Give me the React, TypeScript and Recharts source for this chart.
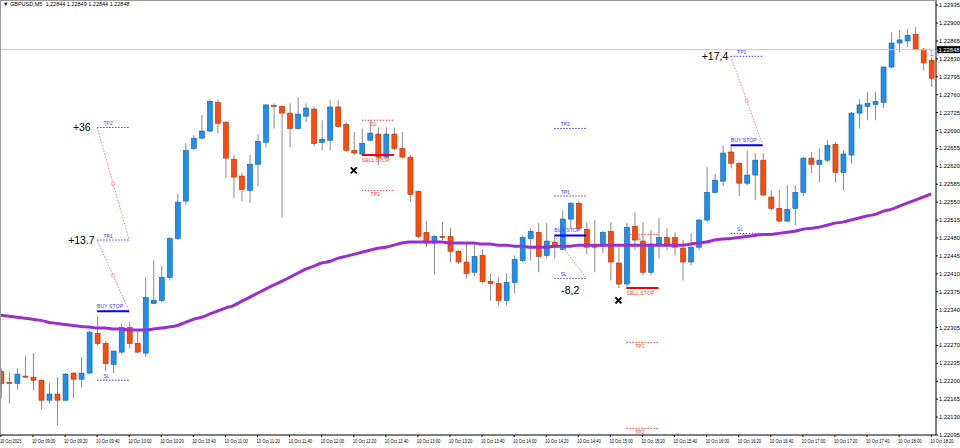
import React from "react";
import { ComposedChart, Bar, Line, XAxis, YAxis, ReferenceLine, ReferenceDot } from "recharts";

const headerText = "GBPUSD,M5  1.22844 1.22849 1.22844 1.22848";
const bidPrice = 1.22848;

// M5 candles, 08:40 .. 18:20
const opens = [
  1.22219, 1.22198, 1.22196, 1.2221, 1.22208, 1.22202, 1.22163, 1.22175, 1.22163, 1.22216,
  1.22204, 1.22216, 1.22294, 1.22274, 1.22233, 1.22257, 1.22305, 1.22274, 1.22255, 1.22352,
  1.22358, 1.22403, 1.22479, 1.22552, 1.22655, 1.22675, 1.22689, 1.22745, 1.22706, 1.22634,
  1.22601, 1.22573, 1.22624, 1.22667, 1.22739, 1.22737, 1.22724, 1.22694, 1.22718, 1.22732,
  1.22667, 1.22671, 1.22736, 1.22702, 1.22651, 1.22644, 1.22671, 1.22683, 1.22638, 1.22683,
  1.22655, 1.22638, 1.22571, 1.22491, 1.2247, 1.22483, 1.22483, 1.22454, 1.22433, 1.22413,
  1.22446, 1.22395, 1.22391, 1.22358, 1.22393, 1.22436, 1.22479, 1.22491, 1.22446, 1.22472,
  1.22458, 1.22517, 1.22548, 1.22497, 1.22464, 1.22464, 1.22493, 1.22431, 1.2239, 1.22503,
  1.22474, 1.22413, 1.22468, 1.22481, 1.22481, 1.2246, 1.22433, 1.22462, 1.22515, 1.22569,
  1.22591, 1.22648, 1.22626, 1.22587, 1.22603, 1.22632, 1.2256, 1.22538, 1.22513, 1.22538,
  1.22569, 1.22636, 1.22624, 1.22632, 1.22663, 1.22608, 1.22642, 1.22724, 1.22737, 1.22741,
  1.22745, 1.22814, 1.22861, 1.22865, 1.22878, 1.22849, 1.22827,
];
const highs = [
  1.22225, 1.22217, 1.22225, 1.22249, 1.22255, 1.22204, 1.22196, 1.22208, 1.22216, 1.22217,
  1.22247, 1.22298, 1.22327, 1.22278, 1.2226, 1.22313, 1.22315, 1.223, 1.22403, 1.22436,
  1.22425, 1.22481, 1.22567, 1.22665, 1.22681, 1.2272, 1.22751, 1.22751, 1.22708, 1.22642,
  1.22607, 1.22642, 1.22683, 1.22741, 1.22743, 1.2274, 1.22743, 1.22755, 1.22743, 1.22737,
  1.2271, 1.22749, 1.22749, 1.22706, 1.22687, 1.22694, 1.2271, 1.22696, 1.22696, 1.22696,
  1.22687, 1.22642, 1.22573, 1.22513, 1.22485, 1.22511, 1.22499, 1.22456, 1.22468, 1.22468,
  1.22458, 1.22411, 1.22403, 1.22411, 1.22446, 1.22485, 1.22499, 1.22509, 1.22509, 1.22485,
  1.22534, 1.2255, 1.22552, 1.22511, 1.22515, 1.22495, 1.22511, 1.22462, 1.22509, 1.2253,
  1.22511, 1.22495, 1.22519, 1.22499, 1.22491, 1.22476, 1.22489, 1.22517, 1.22618, 1.22605,
  1.22661, 1.22661, 1.22628, 1.2265, 1.22646, 1.22646, 1.22573, 1.22573, 1.22583, 1.22583,
  1.22638, 1.22648, 1.22655, 1.22671, 1.22667, 1.22651, 1.22726, 1.22751, 1.22765, 1.22765,
  1.22816, 1.22882, 1.22886, 1.22888, 1.22892, 1.22851, 1.22833,
];
const lows = [
  1.22167, 1.22157, 1.22184, 1.22206, 1.22182, 1.22145, 1.22157, 1.22114, 1.22161, 1.22167,
  1.22188, 1.22214, 1.2227, 1.22221, 1.22216, 1.22253, 1.22264, 1.22255, 1.22247, 1.22351,
  1.22354, 1.22397, 1.22476, 1.22544, 1.22651, 1.22673, 1.22687, 1.22685, 1.22597, 1.22558,
  1.22552, 1.22548, 1.22581, 1.22657, 1.22694, 1.2252, 1.22657, 1.22692, 1.22706, 1.22659,
  1.22651, 1.22651, 1.22696, 1.22648, 1.22642, 1.22642, 1.22669, 1.22622, 1.22636, 1.22651,
  1.22636, 1.2255, 1.22479, 1.22462, 1.22409, 1.22476, 1.22433, 1.22429, 1.22401, 1.22405,
  1.22391, 1.22358, 1.22348, 1.22348, 1.22372, 1.22433, 1.22436, 1.22413, 1.2244, 1.2244,
  1.22456, 1.22499, 1.22495, 1.22448, 1.22413, 1.2245, 1.22397, 1.22382, 1.22384, 1.22456,
  1.22407, 1.22407, 1.2244, 1.22456, 1.22446, 1.22397, 1.22427, 1.22456, 1.22511, 1.22567,
  1.22581, 1.22616, 1.22562, 1.22583, 1.22554, 1.22562, 1.22534, 1.22511, 1.22511, 1.22505,
  1.22562, 1.22607, 1.22589, 1.22628, 1.22589, 1.22573, 1.22626, 1.22694, 1.2271, 1.2271,
  1.22734, 1.22812, 1.22843, 1.22853, 1.22847, 1.22808, 1.22775,
];
const closes = [
  1.22196, 1.22196, 1.22214, 1.22209, 1.22202, 1.22163, 1.22175, 1.22163, 1.22214, 1.22204,
  1.22216, 1.22296, 1.22274, 1.22235, 1.22259, 1.22305, 1.22274, 1.22257, 1.22364, 1.22358,
  1.22403, 1.22479, 1.2255, 1.22651, 1.22675, 1.22689, 1.22747, 1.22704, 1.22636, 1.22599,
  1.22575, 1.22624, 1.22669, 1.2274, 1.22737, 1.22724, 1.22694, 1.22722, 1.22734, 1.22665,
  1.22673, 1.22736, 1.22698, 1.22651, 1.22646, 1.22665, 1.22685, 1.22638, 1.22683, 1.22655,
  1.22638, 1.22565, 1.22483, 1.2247, 1.22483, 1.22481, 1.22454, 1.22433, 1.22411, 1.22444,
  1.22395, 1.22391, 1.22358, 1.22393, 1.22438, 1.22481, 1.22493, 1.22444, 1.22474, 1.22464,
  1.22517, 1.22548, 1.22499, 1.22462, 1.22462, 1.22491, 1.22433, 1.2239, 1.22501, 1.22476,
  1.22413, 1.22468, 1.22481, 1.22466, 1.22462, 1.22433, 1.22462, 1.22515, 1.22569, 1.22593,
  1.22646, 1.22626, 1.22587, 1.22603, 1.22632, 1.22564, 1.22538, 1.22513, 1.22536, 1.22569,
  1.22636, 1.22624, 1.22632, 1.22661, 1.22608, 1.22644, 1.22724, 1.2274, 1.22743, 1.22747,
  1.22814, 1.22861, 1.22867, 1.22876, 1.22849, 1.22822, 1.22792,
];
// purple moving average
const maValues = [
  1.22329, 1.22327, 1.22325, 1.22323, 1.22321, 1.22319, 1.22315, 1.22313, 1.22311, 1.22309,
  1.22307, 1.22306, 1.22304, 1.22304, 1.22302, 1.22302, 1.223, 1.223, 1.223, 1.22302,
  1.22304, 1.22306, 1.22309, 1.22315, 1.22321, 1.22325, 1.22331, 1.22337, 1.22343, 1.22348,
  1.22356, 1.22364, 1.22372, 1.2238, 1.22388, 1.22395, 1.22403, 1.22411, 1.22419, 1.22425,
  1.22431, 1.22434, 1.2244, 1.22444, 1.22448, 1.22452, 1.22456, 1.2246, 1.22462, 1.22466,
  1.2247, 1.22472, 1.22472, 1.22472, 1.22472, 1.22472, 1.2247, 1.2247, 1.2247, 1.2247,
  1.22468, 1.22468, 1.22466, 1.22466, 1.22464, 1.22464, 1.22462, 1.22462, 1.22462, 1.22464,
  1.22464, 1.22464, 1.22466, 1.22466, 1.22466, 1.22466, 1.22466, 1.22466, 1.22466, 1.22466,
  1.22466, 1.22466, 1.22466, 1.22466, 1.22466, 1.22466, 1.22468, 1.2247, 1.22472, 1.22476,
  1.22478, 1.22479, 1.22481, 1.22483, 1.22485, 1.22487, 1.22487, 1.22489, 1.22491, 1.22493,
  1.22497, 1.22499, 1.22501, 1.22505, 1.22509, 1.22511, 1.22515, 1.22519, 1.22523, 1.22526,
  1.22532, 1.22536, 1.22542, 1.22548, 1.22554, 1.2256, 1.22566,
];

const timeLabels = [
  "10 Oct 2023", "10 Oct 09:00", "10 Oct 09:20", "10 Oct 09:40", "10 Oct 10:00", "10 Oct 10:20",
  "10 Oct 10:40", "10 Oct 11:00", "10 Oct 11:20", "10 Oct 11:40", "10 Oct 12:00", "10 Oct 12:20",
  "10 Oct 12:40", "10 Oct 13:00", "10 Oct 13:20", "10 Oct 13:40", "10 Oct 14:00", "10 Oct 14:20",
  "10 Oct 14:40", "10 Oct 15:00", "10 Oct 15:20", "10 Oct 15:40", "10 Oct 16:00", "10 Oct 16:20",
  "10 Oct 16:40", "10 Oct 17:00", "10 Oct 17:20", "10 Oct 17:40", "10 Oct 18:00", "10 Oct 18:20",
];
const timeTickIdx = timeLabels.map((_, k) => k * 4);

const priceTicks = [
  1.22935, 1.229, 1.22865, 1.2283, 1.22795, 1.2276, 1.22725, 1.2269, 1.22655, 1.2262, 1.22585,
  1.2255, 1.22515, 1.2248, 1.22445, 1.2241, 1.22375, 1.2234, 1.22305, 1.2227, 1.22235, 1.222,
  1.22165, 1.2213, 1.22095,
];

// pending orders drawn by the EA
const buyOrders = [
  { from: 12, to: 16, entry: 1.22337, sl: 1.22202, tp1: 1.22476, tp2: 1.22696 },
  { from: 69, to: 73, entry: 1.22485, sl: 1.22401, tp1: 1.22562, tp2: 1.22694 },
  { from: 91, to: 95, entry: 1.22661, sl: 1.22489, tp1: 1.22835 },
];
const sellOrders = [
  { from: 45, to: 49, entry: 1.22642, sl: 1.2271, tp1: 1.22573 },
  { from: 78, to: 82, entry: 1.22382, sl: 1.22487, tp1: 1.22276, tp2: 1.22108 },
];
const tradeLinks = [
  { x1: 12, y1: 1.22696, x2: 16, y2: 1.22476, mark: true },
  { x1: 12, y1: 1.22476, x2: 16, y2: 1.22337, mark: true },
  { x1: 69, y1: 1.22485, x2: 73, y2: 1.22401, mark: false },
  { x1: 91, y1: 1.22835, x2: 95, y2: 1.22661, mark: true },
];
const resultNotes = [
  { i: 11.2, price: 1.22696, text: "+36", anchor: "end" },
  { i: 11.7, price: 1.22476, text: "+13.7", anchor: "end" },
  { i: 71, price: 1.22378, text: "-8,2", anchor: "middle" },
  { i: 90.7, price: 1.22835, text: "+17,4", anchor: "end" },
];
const stopOuts = [
  { i: 44, price: 1.22612 },
  { i: 77, price: 1.22358 },
];

const BLUE = "#1f8ef1";
const RED = "#ff4a0c";
const FONT = "'Liberation Sans', Arial, sans-serif";

const Candle = (props: any) => {
  const { x, y, width, height, payload } = props;
  const { o, h, l, c } = payload;
  const top = Math.min(y, y + height);
  const span = Math.abs(height);
  const toY = (v: number) => top + ((h - v) / (h - l || 1)) * span;
  const cx = x + width / 2;
  const up = c >= o;
  const bTop = toY(Math.max(o, c));
  const bBot = toY(Math.min(o, c));
  return (
    <g>
      <line x1={cx} x2={cx} y1={top} y2={top + span} stroke="#8a8a8a" strokeWidth={1} />
      <rect
        x={x}
        y={bTop}
        width={width}
        height={Math.max(bBot - bTop, 1)}
        fill={up ? BLUE : RED}
        stroke={up ? "#17609f" : "#a8360c"}
        strokeWidth={0.6}
      />
    </g>
  );
};

const TimeTick = (props: any) => {
  const { x, y, payload } = props;
  const label = timeLabels[timeTickIdx.indexOf(payload.value)];
  return (
    <text
      x={x - 1}
      y={y + 4}
      fontSize={4.8}
      fontFamily={FONT}
      fill="#000"
      textAnchor="start"
      textLength={label.length * 1.95}
      lengthAdjust="spacingAndGlyphs"
    >
      {label}
    </text>
  );
};

const PriceTick = (props: any) => {
  const { x, y, payload } = props;
  return (
    <text x={x - 1} y={y + 2} fontSize={5.8} fontFamily={FONT} fill="#000" textAnchor="start">
      {payload.value.toFixed(5)}
    </text>
  );
};

const BidLabel = (props: any) => {
  const vb = props.viewBox;
  const left = vb.x + vb.width + 1;
  return (
    <g>
      <rect x={left} y={vb.y - 3.5} width={23} height={7} fill="#000" />
      <text x={left + 1.5} y={vb.y + 2} fontSize={5.8} fontFamily={FONT} fill="#fff">
        {bidPrice.toFixed(5)}
      </text>
    </g>
  );
};

const textShape = (text: string, color: string, size: number, dy: number, anchor = "start", dx = 0) =>
  (p: any) => (
    <text x={p.cx + dx} y={p.cy + dy} fontSize={size} fontFamily={FONT} fill={color} textAnchor={anchor}>
      {text}
    </text>
  );

const crossShape = (p: any) => (
  <g stroke="#000" strokeWidth={2}>
    <line x1={p.cx - 3} y1={p.cy - 3} x2={p.cx + 3} y2={p.cy + 3} />
    <line x1={p.cx - 3} y1={p.cy + 3} x2={p.cx + 3} y2={p.cy - 3} />
  </g>
);

const ringShape = (p: any) => <circle cx={p.cx} cy={p.cy} r={1.6} fill="#fff" stroke="#f08080" strokeWidth={0.7} />;

export default function App() {
  const data = opens.map((o, i) => ({
    i,
    o,
    h: highs[i],
    l: lows[i],
    c: closes[i],
    range: [lows[i], highs[i]],
    ma: maValues[i],
  }));

  const refs: React.ReactNode[] = [];
  buyOrders.forEach((t, k) => {
    const lv = [
      { p: t.sl, name: "SL" },
      { p: t.tp1, name: "TP1" },
      ...(t.tp2 ? [{ p: t.tp2, name: "TP2" }] : []),
    ];
    lv.forEach((v) => {
      refs.push(
        <ReferenceLine key={`b${k}${v.name}`} segment={[{ x: t.from, y: v.p }, { x: t.to, y: v.p }]} stroke="#3a3aff" strokeDasharray="1.5 1.5" />,
        <ReferenceDot key={`bt${k}${v.name}`} x={t.from + 0.8} y={v.p} r={0} shape={textShape(v.name, "#3a3aff", 5, -2)} />
      );
    });
    refs.push(
      <ReferenceLine key={`be${k}`} segment={[{ x: t.from, y: t.entry }, { x: t.to, y: t.entry }]} stroke="#0000ff" strokeWidth={2} />,
      <ReferenceDot key={`bet${k}`} x={t.from} y={t.entry} r={0} shape={textShape("BUY STOP", "#3a3aff", 5.2, -3)} />
    );
  });
  sellOrders.forEach((t, k) => {
    const lv = [
      { p: t.sl, name: "SL" },
      { p: t.tp1, name: "TP1" },
      ...(t.tp2 ? [{ p: t.tp2, name: "TP2" }] : []),
    ];
    lv.forEach((v) => {
      refs.push(
        <ReferenceLine key={`s${k}${v.name}`} segment={[{ x: t.from, y: v.p }, { x: t.to, y: v.p }]} stroke="#ff4040" strokeDasharray="1.5 1.5" />,
        <ReferenceDot key={`st${k}${v.name}`} x={t.from + 1.1} y={v.p} r={0} shape={textShape(v.name, "#ff4040", 5, 6)} />
      );
    });
    refs.push(
      <ReferenceLine key={`se${k}`} segment={[{ x: t.from, y: t.entry }, { x: t.to, y: t.entry }]} stroke="#ff0000" strokeWidth={2} />,
      <ReferenceDot key={`set${k}`} x={t.from} y={t.entry} r={0} shape={textShape("SELL STOP", "#ff4040", 5.2, 7)} />
    );
  });
  tradeLinks.forEach((d, k) => {
    refs.push(
      <ReferenceLine key={`l${k}`} segment={[{ x: d.x1, y: d.y1 }, { x: d.x2, y: d.y2 }]} stroke="#f08080" strokeDasharray="1.5 1.5" />
    );
    if (d.mark)
      refs.push(<ReferenceDot key={`lm${k}`} x={(d.x1 + d.x2) / 2} y={(d.y1 + d.y2) / 2} r={0} shape={ringShape} />);
  });
  resultNotes.forEach((n, k) => {
    refs.push(
      <ReferenceDot key={`n${k}`} x={n.i} y={n.price} r={0} shape={textShape(n.text, "#000", 10.5, 4, n.anchor)} />
    );
  });
  stopOuts.forEach((s, k) => {
    refs.push(<ReferenceDot key={`x${k}`} x={s.i} y={s.price} r={0} shape={crossShape} />);
  });

  return (
    <div style={{ position: "relative", width: 960, height: 448, background: "#fff", overflow: "hidden" }}>
      <style>{`body{margin:0}`}</style>
      <ComposedChart width={960} height={448} data={data} margin={{ top: 0, right: 0, bottom: 0, left: 0 }}>
        <XAxis
          type="number"
          dataKey="i"
          domain={[-0.11, 116.6]}
          allowDataOverflow
          ticks={timeTickIdx}
          interval={0}
          tick={<TimeTick />}
          tickSize={2}
          height={13}
          stroke="#000"
        />
        <YAxis
          orientation="right"
          domain={[1.22095, 1.22945]}
          allowDataOverflow
          ticks={priceTicks}
          interval={0}
          tick={<PriceTick />}
          tickSize={2}
          width={24}
          stroke="#000"
        />
        <ReferenceLine y={bidPrice} stroke="#c8c8c8" label={<BidLabel />} />
        {refs}
        <Bar dataKey="range" barSize={5} shape={<Candle />} isAnimationActive={false} />
        <Line dataKey="ma" type="monotone" stroke="#9a2fd0" strokeWidth={3} dot={false} activeDot={false} isAnimationActive={false} />
      </ComposedChart>
      <div
        style={{
          position: "absolute",
          left: 0,
          top: 0,
          width: 935,
          height: 434,
          borderLeft: "1px solid #9a9a9a",
          borderTop: "1px solid #9a9a9a",
          pointerEvents: "none",
        }}
      />
      <div style={{ position: "absolute", left: 3, top: 1, fontSize: 5.5, fontFamily: FONT, color: "#000", whiteSpace: "pre" }}>
        {"\u25BC " + headerText}
      </div>
      <div style={{ position: "absolute", left: 929, top: 48, fontSize: 9, fontFamily: FONT, color: "#7fb2e8" }}>16</div>
    </div>
  );
}
